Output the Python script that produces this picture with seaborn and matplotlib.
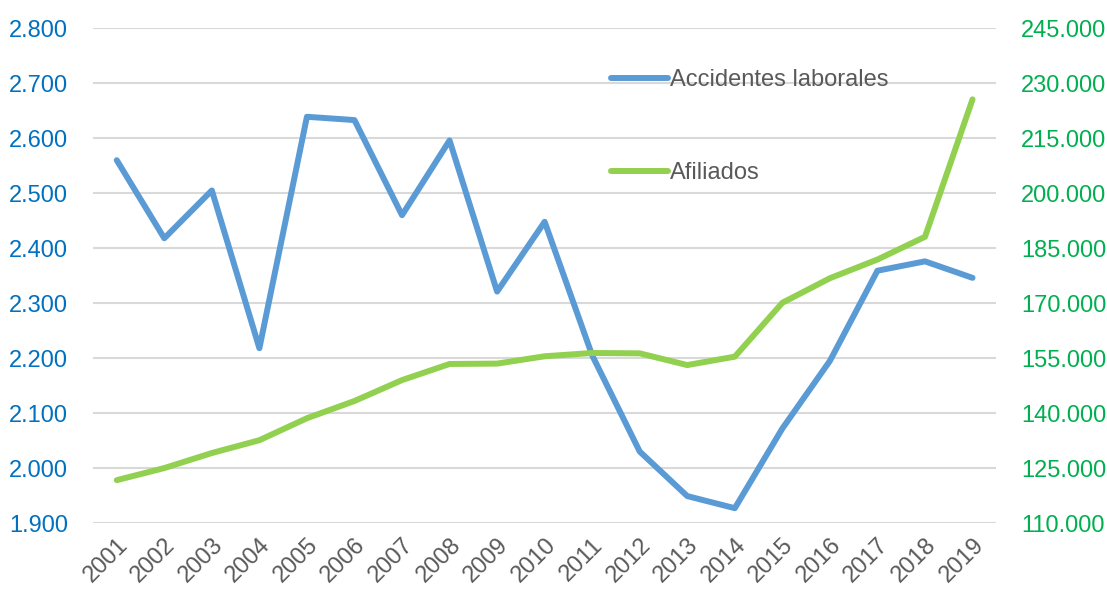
import numpy as np
import pandas as pd
import matplotlib
matplotlib.use("Agg")
import matplotlib.pyplot as plt
import seaborn as sns
from matplotlib.ticker import FuncFormatter

# Data
years = [str(y) for y in range(2001, 2020)]
accidentes = [2560, 2418, 2505, 2218, 2639, 2633, 2460, 2596, 2321, 2448,
              2205, 2030, 1949, 1927, 2072, 2195, 2359, 2376, 2346]
afiliados = [121700, 125000, 129100, 132600, 138600, 143300, 149000, 153400, 153500, 155500,
             156400, 156300, 153100, 155400, 170100, 176800, 181900, 188100, 225600]

df = pd.DataFrame({"Año": years, "Accidentes laborales": accidentes, "Afiliados": afiliados})

sns.set_style("white")
plt.rcParams['font.family'] = ['Liberation Sans', 'DejaVu Sans']

blue = "#5B9BD5"
green = "#92D050"

fig = plt.figure(figsize=(11.07, 5.89), dpi=100)
ax = fig.add_axes([0.084, 0.112, 0.816, 0.840])
ax2 = ax.twinx()

sns.lineplot(data=df, x="Año", y="Accidentes laborales", ax=ax, color=blue,
             linewidth=4.3, label="Accidentes laborales", legend=False)
sns.lineplot(data=df, x="Año", y="Afiliados", ax=ax2, color=green,
             linewidth=4.3, label="Afiliados", legend=False)

ax.set_xlim(-0.5, len(years) - 0.5)
ax.set_ylim(1900, 2800)
ax2.set_ylim(110000, 245000)
ax.set_yticks(np.arange(1900, 2801, 100))
ax2.set_yticks(np.arange(110000, 245001, 15000))

fmt = FuncFormatter(lambda v, p: f"{v:,.0f}".replace(",", "."))
ax.yaxis.set_major_formatter(fmt)
ax2.yaxis.set_major_formatter(fmt)

ax.grid(axis="y", color="#D9D9D9", linewidth=1.5)
ax.set_axisbelow(True)
for a in (ax, ax2):
    for s in a.spines.values():
        s.set_visible(False)
    a.set_xlabel("")
    a.set_ylabel("")

ax.tick_params(axis="y", colors="#0070C0", labelsize=17, length=0, pad=18)
ax2.tick_params(axis="y", colors="#00B050", labelsize=17, length=0, pad=18)
ax.tick_params(axis="x", colors="#595959", labelsize=17, length=0, pad=8)
plt.setp(ax.get_xticklabels(), rotation=45, ha="right", rotation_mode="anchor")

# Combined legend
h1, l1 = ax.get_legend_handles_labels()
h2, l2 = ax2.get_legend_handles_labels()
leg = ax2.legend(h1 + h2, l1 + l2, loc="upper left", bbox_to_anchor=(0.55, 0.96),
                 frameon=False, fontsize=17, handlelength=2.4, handletextpad=0.1,
                 labelspacing=3.0, labelcolor="#595959")

fig.savefig("out.png", dpi=100)
plt.close()
